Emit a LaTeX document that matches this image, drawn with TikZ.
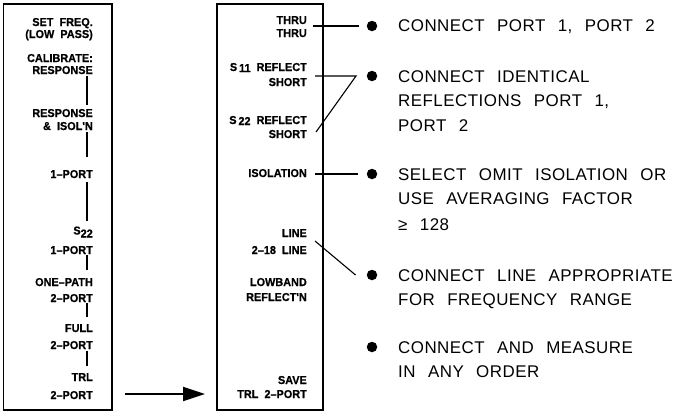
\documentclass[tikz,border=0pt]{standalone}
\usepackage{fontspec}
\setmainfont{Liberation Sans}
\newfontfamily\boxfont[WordSpace=2,FakeBold=0.6,FakeStretch=0.95]{Liberation Sans}
\newfontfamily\notefont[LetterSpace=2.8,WordSpace=2.4]{Liberation Sans}
\usetikzlibrary{arrows.meta}
\begin{document}
\begin{tikzpicture}[x=1bp,y=-1bp,
  lbl/.style={anchor=base east, inner sep=0pt, font=\boxfont\fontsize{11.5}{12}\selectfont\bfseries},
  note/.style={anchor=base west, inner sep=0pt, font=\notefont\fontsize{17}{19}\selectfont},
  frame/.style={draw, line width=1.3bp},
  conn/.style={line width=1.1bp},
  dot/.style={circle, fill, inner sep=0pt, minimum size=10.5bp}]
\useasboundingbox (0,0) rectangle (673,413);
% frames
\draw[frame] (3.5,4) rectangle (112,410);
\draw[frame] (217,4) rectangle (323,410);
% left column
\node[lbl] (sf1) at (93,26) {SET FREQ.};
\node[lbl] (sf2) at (93,38) {(LOW PASS)};
\node[lbl] (cal) at (93,62) {CALIBRATE:};
\node[lbl] (rsp1) at (93,74) {RESPONSE};
\node[lbl] (rsp2) at (93,117) {RESPONSE};
\node[lbl] (iso1) at (93,130) {\& ISOL'N};
\node[lbl] (op1) at (93,178) {1–PORT};
\node[lbl] (s22) at (93,236) {\raisebox{1.5bp}{S}\raisebox{-1.5bp}{22}};
\node[lbl] (op2) at (93,254) {1–PORT};
\node[lbl] (one) at (93,286) {ONE–PATH};
\node[lbl] (tp1) at (93,302) {2–PORT};
\node[lbl] (full) at (93,332) {FULL};
\node[lbl] (tp2) at (93,349) {2–PORT};
\node[lbl] (trl) at (93,381) {TRL};
\node[lbl] (tp3) at (93,399) {2–PORT};
\coordinate (vx) at (87,0);
\draw[conn, shorten <=2bp, shorten >=3.5bp] (rsp1.south -| vx) -- (rsp2.north -| vx);
\draw[conn, shorten <=2bp, shorten >=13bp] (iso1.south -| vx) -- (op1.north -| vx);
\draw[conn, shorten <=4bp, shorten >=5bp] (op1.south -| vx) -- (s22.north -| vx);
\draw[conn, shorten <=1bp, shorten >=8bp] (op2.south -| vx) -- (one.north -| vx);
\draw[conn, shorten <=1bp, shorten >=6.5bp] (tp1.south -| vx) -- (full.north -| vx);
\draw[conn, shorten <=2bp, shorten >=6.5bp] (tp2.south -| vx) -- (trl.north -| vx);
% right column
\node[lbl] (th1) at (307,24) {THRU};
\node[lbl] (th2) at (307,37) {THRU};
\node[lbl] (s11r) at (307,71) {S\,\raisebox{-1bp}{11} REFLECT};
\node[lbl] (sh1) at (307,86) {SHORT};
\node[lbl] (s22r) at (307,124) {S\,\raisebox{-1bp}{22} REFLECT};
\node[lbl] (sh2) at (307,138) {SHORT};
\node[lbl] (isor) at (307,177) {ISOLATION};
\node[lbl] (ln1) at (307,237) {LINE};
\node[lbl] (ln2) at (307,254) {2–18 LINE};
\node[lbl] (lb1) at (307,286) {LOWBAND};
\node[lbl] (lb2) at (307,301) {REFLECT'N};
\node[lbl] (sv1) at (307,384) {SAVE};
\node[lbl] (sv2) at (307,398) {TRL 2–PORT};
% bullets
\node[dot] (b1) at (372,26) {};
\node[dot] (b2) at (372,76) {};
\node[dot] (b3) at (372,174) {};
\node[dot] (b4) at (372,275) {};
\node[dot] (b5) at (372,347) {};
% notes
\node[note] (n1) at (398,31) {CONNECT PORT 1, PORT 2};
\node[note] (n2a) at (398,82) {CONNECT IDENTICAL};
\node[note] (n2b) at (398,106) {REFLECTIONS PORT 1,};
\node[note] (n2c) at (398,131) {PORT 2};
\node[note] (n3a) at (398,180) {SELECT OMIT ISOLATION OR};
\node[note] (n3b) at (398,204) {USE AVERAGING FACTOR};
\node[note] (n3c) at (398,230) {≥ 128};
\node[note] (n4a) at (398,281) {CONNECT LINE APPROPRIATE};
\node[note] (n4b) at (398,305) {FOR FREQUENCY RANGE};
\node[note] (n5a) at (398,353) {CONNECT AND MEASURE};
\node[note] (n5b) at (398,377) {IN ANY ORDER};
% connectors
\coordinate (k2) at (356,76);
\draw[conn] ([xshift=6bp]th1.east |- b1) -- ([xshift=-8bp]b1.west);
\draw[conn] ([xshift=8bp]s11r.east |- b2) -- (k2) -- ([shift={(9bp,-8bp)}]s22r.base east);
\draw[conn] ([xshift=8bp]isor.east |- b3) -- ([xshift=-9bp]b3.west);
\draw[conn] ([shift={(8bp,-4bp)}]ln1.base east) -- ([xshift=-11bp]b4.west);
% arrow
\coordinate (a1) at (125,394);
\coordinate (a2) at (205,394);
\draw[line width=2bp, -{Triangle[length=22bp, width=14bp]}] (a1) -- (a2);
\end{tikzpicture}
\end{document}
